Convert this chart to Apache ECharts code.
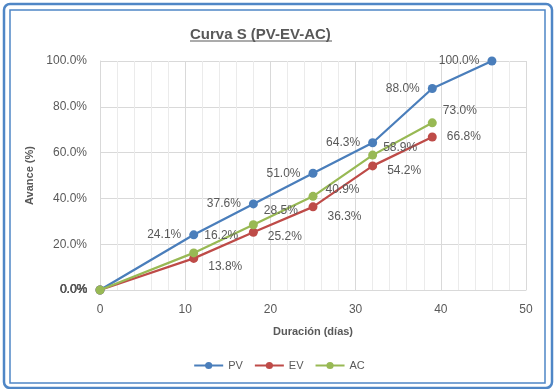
<!DOCTYPE html>
<html>
<head>
<meta charset="utf-8">
<script src="https://cdn.jsdelivr.net/npm/echarts@6/dist/echarts.min.js"></script>
<style>
  html, body { margin: 0; padding: 0; background: #fff; }
  #chart { width: 558px; height: 389px; }
</style>
</head>
<body>
<div id="chart"></div>
<script>
// datos de la curva S
const days = [0, 11, 18, 25, 32, 39, 46]
const pv = [0, 24.1, 37.6, 51.0, 64.3, 88.0, 100.0]
const ev = [0, 13.8, 25.2, 36.3, 54.2, 66.8]
const ac = [0, 16.2, 28.5, 40.9, 58.9, 73.0]
const yTicks = [0, 20, 40, 60, 80, 100]

// posición de las etiquetas (solo estilo)
const evOffsets = [[0, 0], [0, 8], [0, 4], [0, 10], [0, 5], [0, 0]]
const acOffsets = [[0, 0], [-4, -17], [-4, -14], [-2, -7], [-4, -7], [-4, -12]]

const font = '"Liberation Sans", "DejaVu Sans", sans-serif'
const txt = '#595959'

function build(values, labelFn) {
  return values.map((v, i) => {
    const item = { value: [days[i], v] }
    if (labelFn) item.label = labelFn(i)
    return item
  })
}

const chart = echarts.init(document.getElementById('chart'))

const option = {
  animation: false,
  textStyle: { fontFamily: font },
  title: {
    text: 'Curva S (PV-EV-AC)',
    left: 185,
    top: 22,
    textStyle: { fontSize: 15, fontWeight: 'bold', color: txt, fontFamily: font }
  },
  legend: {
    data: ['PV', 'EV', 'AC'],
    left: 'center',
    top: 355,
    itemWidth: 29,
    itemHeight: 9,
    itemGap: 11,
    textStyle: { color: txt, fontSize: 11 }
  },
  grid: { left: 100, right: 32, top: 61, bottom: 99 },
  xAxis: {
    type: 'value',
    min: 0,
    max: 50,
    interval: 10,
    name: 'Duración (días)',
    nameLocation: 'middle',
    nameGap: 36,
    nameTextStyle: { color: txt, fontWeight: 'bold', fontSize: 11 },
    axisLine: { show: true, lineStyle: { color: '#d9d9d9' } },
    axisTick: { show: false },
    axisLabel: { color: txt, fontSize: 12, margin: 14 },
    splitLine: { show: true, lineStyle: { color: '#d9d9d9' } },
    minorTick: { show: false, splitNumber: 5 },
    minorSplitLine: { show: true, lineStyle: { color: '#ebebeb' } }
  },
  yAxis: {
    type: 'value',
    min: 0,
    max: 100,
    interval: 20,
    name: 'Avance (%)',
    nameLocation: 'middle',
    nameGap: 56,
    nameTextStyle: { color: txt, fontWeight: 'bold', fontSize: 11 },
    axisLine: { show: true, lineStyle: { color: '#d9d9d9' } },
    axisTick: { show: false },
    axisLabel: {
      color: txt,
      fontSize: 12,
      margin: 13,
      formatter: v => yTicks.includes(v) ? v.toFixed(1) + '%' : ''
    },
    splitLine: { show: true, lineStyle: { color: '#d9d9d9' } }
  },
  series: [
    {
      name: 'PV',
      type: 'line',
      symbol: 'circle',
      symbolSize: 9,
      color: '#4a7ebb',
      lineStyle: { width: 2.25 },
      label: {
        show: true, position: 'left', distance: 8, color: txt, fontSize: 12,
        formatter: p => p.value[1].toFixed(1) + '%'
      },
      data: build(pv),
      z: 3
    },
    {
      name: 'EV',
      type: 'line',
      symbol: 'circle',
      symbolSize: 9,
      color: '#be4b48',
      lineStyle: { width: 2.25 },
      label: {
        show: true, position: 'right', distance: 10, color: txt, fontSize: 12,
        formatter: p => p.value[1].toFixed(1) + '%'
      },
      data: build(ev, i => i === 0
        ? { position: 'left', distance: 8, offset: [0, 0] }
        : { offset: evOffsets[i] }),
      z: 2
    },
    {
      name: 'AC',
      type: 'line',
      symbol: 'circle',
      symbolSize: 9,
      color: '#98b954',
      lineStyle: { width: 2.25 },
      label: {
        show: true, position: 'right', distance: 10, color: txt, fontSize: 12,
        formatter: p => p.value[1].toFixed(1) + '%'
      },
      data: build(ac, i => i === 0
        ? { position: 'left', distance: 8, offset: [0, 0] }
        : { offset: acOffsets[i] }),
      z: 4
    }
  ],
  graphic: [
    {
      type: 'line',
      shape: { x1: 190, y1: 41, x2: 332, y2: 41 },
      style: { stroke: txt, lineWidth: 1.2 }
    },
    {
      type: 'rect',
      shape: { x: 4, y: 4, width: 548, height: 384, r: 6 },
      style: { fill: 'none', stroke: '#4f86c6', lineWidth: 2.5 },
      silent: true
    },
    {
      type: 'rect',
      shape: { x: 10, y: 10, width: 535, height: 373 },
      style: { fill: 'none', stroke: '#4f86c6', lineWidth: 1.5 },
      silent: true
    }
  ]
}

chart.setOption(option)
</script>
</body>
</html>
